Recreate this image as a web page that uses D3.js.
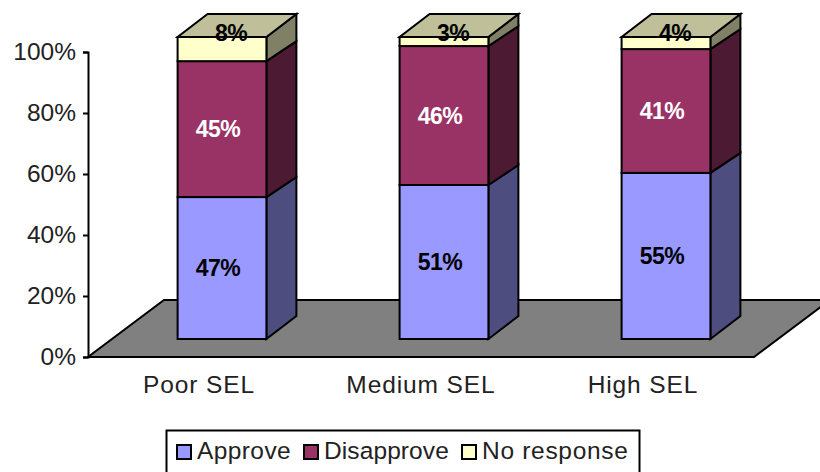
<!DOCTYPE html>
<html>
<head>
<meta charset="utf-8">
<style>
  html, body { margin: 0; padding: 0; background: #fff; overflow: hidden; }
  text { font-family: "Liberation Sans", Arial, sans-serif; }
</style>
<script src="https://cdn.jsdelivr.net/npm/d3@7/dist/d3.min.js"></script>
</head>
<body>
<div id="chart"></div>
<script>
var categories = ['Poor SEL', 'Medium SEL', 'High SEL'];
var seriesNames = ['Approve', 'Disapprove', 'No response'];
var approve = [47, 51, 55];
var disapprove = [45, 46, 41];
var noResponse = [8, 3, 4];
var tickValues = [0, 20, 40, 60, 80, 100];

var width = 820, height = 472;
var colors = ['#9999ff', '#993366', '#ffffcc'];
var sideColors = ['#4d4d80', '#4d1a33', '#808066'];
var topColor = '#bfbf99';
var labelColors = ['#000', '#fff', '#000'];
var lineWidth = 2;

// oblique projection: floor depth, and how far into it the bars stand
var floorDepth = { x: 76, y: -57 };
var barDepth = { x: 30, y: -23 };
var innerDepthY = -20;
var barInset = { x: 23, y: -18 };

var x = d3.scaleBand().domain(categories).range([88, 754]).paddingInner(0.6).paddingOuter(0.3);
var y = d3.scaleLinear().domain([0, 100]).range([357, 52]);
var barY = d3.scaleLinear().domain([0, 100]).range([357 + barInset.y, 37]);

var rows = categories.map(function(c, i) {
  return { category: c, 'Approve': approve[i], 'Disapprove': disapprove[i], 'No response': noResponse[i] };
});
var stacked = d3.stack().keys(seriesNames)(rows);

var svg = d3.select('#chart').append('svg')
  .attr('width', width)
  .attr('height', height)
  .style('display', 'block');

function poly(points) {
  return points.map(function(p) { return p.join(','); }).join(' ');
}

// back edge of a segment boundary on the side face
function sideBackY(v) {
  return barY(v) + (v === 0 || v === 100 ? barDepth.y : innerDepthY);
}

// floor
var x0 = x.range()[0], x1 = x.range()[1];
svg.append('polygon')
  .attr('points', poly([[x0, y(0)], [x1, y(0)], [x1 + floorDepth.x, y(0) + floorDepth.y], [x0 + floorDepth.x, y(0) + floorDepth.y]]))
  .attr('fill', '#808080')
  .attr('stroke', '#000')
  .attr('stroke-width', lineWidth);

// value axis
var yAxis = d3.axisLeft(y)
  .tickValues(tickValues)
  .tickSize(5)
  .tickFormat(function(d) { return d + '%'; });

var yG = svg.append('g')
  .attr('transform', 'translate(' + x0 + ',0)')
  .call(yAxis);
yG.selectAll('path, line').attr('stroke', '#000').attr('stroke-width', lineWidth);
yG.selectAll('text').attr('font-size', 24.5).attr('fill', '#222').attr('x', -12);

// category labels
svg.selectAll('.cat')
  .data(categories)
  .enter().append('text')
  .attr('class', 'cat')
  .attr('x', function(d) { return x(d) + x.bandwidth() / 2; })
  .attr('y', 393)
  .attr('text-anchor', 'middle')
  .attr('font-size', 24.5)
  .attr('letter-spacing', 0.9)
  .attr('fill', '#222')
  .text(function(d) { return d; });

// bars, bottom segment first so the upper ones overlap its edges
stacked.forEach(function(layer, s) {
  var g = svg.append('g').attr('class', 'series');

  layer.forEach(function(seg, i) {
    var left = x(categories[i]) + barInset.x;
    var right = left + x.bandwidth();
    var yb = barY(seg[0]);
    var yt = barY(seg[1]);

    g.append('polygon')
      .attr('points', poly([[right, yb], [right + barDepth.x, sideBackY(seg[0])], [right + barDepth.x, sideBackY(seg[1])], [right, yt]]))
      .attr('fill', sideColors[s])
      .attr('stroke', '#000')
      .attr('stroke-width', lineWidth);

    g.append('rect')
      .attr('x', left)
      .attr('y', yt)
      .attr('width', x.bandwidth())
      .attr('height', yb - yt)
      .attr('fill', colors[s])
      .attr('stroke', '#000')
      .attr('stroke-width', lineWidth);

    if (s === seriesNames.length - 1) {
      g.append('polygon')
        .attr('points', poly([[left, yt], [right, yt], [right + barDepth.x, yt + barDepth.y], [left + barDepth.x, yt + barDepth.y]]))
        .attr('fill', topColor)
        .attr('stroke', '#000')
        .attr('stroke-width', lineWidth);
    }
  });
});

// value labels; the top series is too thin for its label, so it rides on the lid
stacked.forEach(function(layer, s) {
  var isTop = s === seriesNames.length - 1;
  layer.forEach(function(seg, i) {
    var left = x(categories[i]) + barInset.x;
    svg.append('text')
      .attr('class', 'value')
      .attr('x', left + x.bandwidth() / 2 + (isTop ? 9 : -4))
      .attr('y', isTop ? barY(seg[1]) - 4 : (barY(seg[0]) + barY(seg[1])) / 2)
      .attr('dy', '0.35em')
      .attr('text-anchor', 'middle')
      .attr('font-size', 23)
      .attr('font-weight', 'bold')
      .attr('letter-spacing', -0.5)
      .attr('fill', labelColors[s])
      .text(seg[1] - seg[0] + '%');
  });
});

// legend, its frame runs off the bottom of the page
var legend = svg.append('g');
legend.append('rect')
  .attr('x', 166.5)
  .attr('y', 430.5)
  .attr('width', 473)
  .attr('height', 60)
  .attr('fill', '#fff')
  .attr('stroke', '#000')
  .attr('stroke-width', lineWidth);

var legendX = [177, 304, 462];
var legendSpacing = [0.4, 0.1, 0.7];
seriesNames.forEach(function(name, i) {
  legend.append('rect')
    .attr('x', legendX[i])
    .attr('y', 445)
    .attr('width', 14)
    .attr('height', 14)
    .attr('fill', colors[i])
    .attr('stroke', '#000')
    .attr('stroke-width', lineWidth);
  legend.append('text')
    .attr('x', legendX[i] + 20)
    .attr('y', 459)
    .attr('font-size', 24.5)
    .attr('letter-spacing', legendSpacing[i])
    .attr('fill', '#222')
    .text(name);
});
</script>
</body>
</html>
